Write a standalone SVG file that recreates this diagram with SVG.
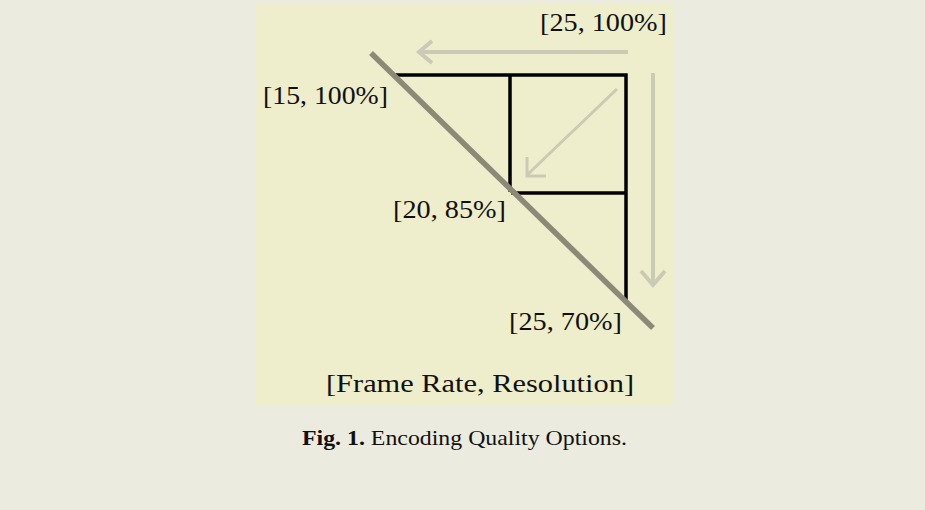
<svg xmlns="http://www.w3.org/2000/svg" width="925" height="510" viewBox="0 0 925 510">
<defs>
<style>
.lbl{font-family:"Liberation Serif","Times New Roman",serif;font-size:25px;fill:#111}
.cap{font-family:"Liberation Serif","Times New Roman",serif;font-size:22px;fill:#111}
.blk{stroke:#000;stroke-width:3.5;fill:none;stroke-linecap:square}
.arr{stroke:#CBCAB4;stroke-width:4;fill:none;stroke-linecap:butt}
.arr2{stroke:#CBCAB4;stroke-width:3;fill:none}
</style>
</defs>
<rect x="0" y="0" width="925" height="510" fill="#ECEBDF"/>
<rect id="panel" x="256" y="4" width="417" height="402" fill="#EEEDCC"/>
<g id="connectors">
<path class="arr" d="M628,52 H420 M432,41 L419,52 L432,63"/>
<path class="arr" d="M653,73 V284 M641,271 L653,285 L665,271"/>
<path class="arr2" d="M617,89 L527,175 M527,157 V176 H546"/>
</g>
<g id="grid">
<path class="blk" d="M394,75 H626 V300 M510,75 V190 M513,193 H626"/>
</g>
<g id="frontier">
<line x1="371" y1="53" x2="653" y2="328" stroke="#8C8A76" stroke-width="5.5" stroke-linecap="butt"/>
</g>
<g id="n1"><text class="lbl" x="540" y="31" textLength="127" lengthAdjust="spacingAndGlyphs">[25, 100%]</text></g>
<g id="n2"><text class="lbl" x="263" y="104" textLength="125" lengthAdjust="spacingAndGlyphs">[15, 100%]</text></g>
<g id="n3"><text class="lbl" x="393" y="218" textLength="113" lengthAdjust="spacingAndGlyphs">[20, 85%]</text></g>
<g id="n4"><text class="lbl" x="509" y="330" textLength="113" lengthAdjust="spacingAndGlyphs">[25, 70%]</text></g>
<g id="axis"><text class="lbl" x="326" y="392" textLength="308" lengthAdjust="spacingAndGlyphs">[Frame Rate, Resolution]</text></g>
<g id="caption"><text class="cap" x="302" y="445" textLength="325" lengthAdjust="spacingAndGlyphs"><tspan font-weight="bold">Fig. 1.</tspan> Encoding Quality Options.</text></g>
</svg>
